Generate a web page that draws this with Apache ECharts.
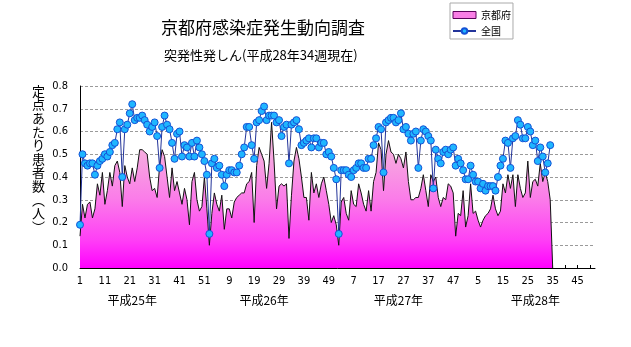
<!DOCTYPE html>
<html>
<head>
<meta charset="utf-8">
<script src="https://cdn.jsdelivr.net/npm/echarts@6/dist/echarts.min.js"></script>
<style>
  html, body { margin: 0; padding: 0; background: #fff; }
  #chart { width: 631px; height: 347px; }
</style>
</head>
<body>
<div id="chart"></div>
<script>
// Surveillance years (Heisei era) and weeks per year on the axis
const years = ['平成25年', '平成26年', '平成27年', '平成28年'];
const weeksPerYear = 52;

// Weekly cases per sentinel site — Kyoto prefecture
const kyoto = [
  // H25
  0.14, 0.28, 0.22, 0.28, 0.29, 0.22, 0.26, 0.37, 0.32, 0.42,
  0.28, 0.34, 0.42, 0.36, 0.45, 0.47, 0.42, 0.27, 0.45, 0.40,
  0.37, 0.44, 0.38, 0.44, 0.52, 0.52, 0.51, 0.50, 0.40, 0.34,
  0.35, 0.31, 0.45, 0.52, 0.49, 0.40, 0.31, 0.44, 0.34, 0.38,
  0.33, 0.28, 0.35, 0.30, 0.19, 0.38, 0.42, 0.30, 0.25, 0.27,
  0.40, 0.26,
  // H26
  0.10, 0.24, 0.33, 0.28, 0.25, 0.32, 0.17, 0.26, 0.26, 0.22,
  0.29, 0.31, 0.32, 0.33, 0.33, 0.37, 0.38, 0.42, 0.20, 0.45,
  0.53, 0.50, 0.47, 0.35, 0.46, 0.64, 0.47, 0.26, 0.36, 0.37,
  0.36, 0.37, 0.13, 0.32, 0.47, 0.53, 0.48, 0.40, 0.31, 0.31,
  0.21, 0.42, 0.33, 0.37, 0.31, 0.37, 0.40, 0.34, 0.28, 0.20,
  0.23, 0.19,
  // H27
  0.10, 0.29, 0.31, 0.24, 0.21, 0.34, 0.28, 0.27, 0.37, 0.33,
  0.28, 0.25, 0.34, 0.25, 0.38, 0.42, 0.55, 0.52, 0.34, 0.50,
  0.56, 0.51, 0.50, 0.46, 0.50, 0.48, 0.44, 0.51, 0.38, 0.30,
  0.30, 0.31, 0.31, 0.35, 0.41, 0.34, 0.27, 0.41, 0.38, 0.40,
  0.31, 0.27, 0.31, 0.30, 0.37, 0.36, 0.33, 0.14, 0.24, 0.23,
  0.34, 0.18,
  // H28 (to week 34), area closes to zero after the last week
  0.23, 0.37, 0.24, 0.25, 0.21, 0.18, 0.21, 0.23, 0.24, 0.26,
  0.32, 0.26, 0.23, 0.25, 0.37, 0.33, 0.41, 0.35, 0.41, 0.27,
  0.41, 0.35, 0.31, 0.33, 0.47, 0.31, 0.38, 0.39, 0.36, 0.46,
  0.38, 0.42, 0.38, 0.30,
  0
];

// Weekly cases per sentinel site — national
const national = [
  // H25
  0.19, 0.50, 0.46, 0.45, 0.46, 0.46, 0.41, 0.45, 0.47, 0.48,
  0.50, 0.49, 0.51, 0.54, 0.55, 0.61, 0.64, 0.40, 0.61, 0.63,
  0.68, 0.72, 0.65, 0.66, 0.66, 0.67, 0.65, 0.63, 0.60, 0.62,
  0.64, 0.58, 0.44, 0.62, 0.67, 0.63, 0.61, 0.55, 0.48, 0.59,
  0.60, 0.49, 0.54, 0.53, 0.49, 0.55, 0.49, 0.56, 0.53, 0.50,
  0.47, 0.41,
  // H26
  0.15, 0.46, 0.48, 0.44, 0.45, 0.41, 0.36, 0.41, 0.43, 0.43,
  0.42, 0.42, 0.45, 0.50, 0.53, 0.62, 0.62, 0.54, 0.48, 0.64,
  0.65, 0.69, 0.71, 0.65, 0.67, 0.67, 0.67, 0.64, 0.65, 0.58,
  0.62, 0.63, 0.46, 0.63, 0.64, 0.65, 0.61, 0.54, 0.55, 0.56,
  0.57, 0.53, 0.57, 0.57, 0.53, 0.55, 0.55, 0.50, 0.51, 0.49,
  0.44, 0.39,
  // H27
  0.15, 0.43, 0.43, 0.43, 0.41, 0.40, 0.43, 0.44, 0.46, 0.46,
  0.44, 0.44, 0.48, 0.48, 0.54, 0.57, 0.62, 0.61, 0.42, 0.64,
  0.65, 0.66, 0.66, 0.64, 0.65, 0.68, 0.61, 0.62, 0.59, 0.56,
  0.59, 0.60, 0.44, 0.56, 0.61, 0.60, 0.58, 0.56, 0.35, 0.52,
  0.48, 0.46, 0.51, 0.52, 0.50, 0.52, 0.53, 0.45, 0.48, 0.46,
  0.43, 0.39,
  // H28 (to week 34)
  0.39, 0.45, 0.41, 0.38, 0.38, 0.35, 0.37, 0.34, 0.36, 0.36,
  0.36, 0.34, 0.40, 0.45, 0.48, 0.56, 0.55, 0.44, 0.57, 0.58,
  0.65, 0.63, 0.57, 0.57, 0.62, 0.60, 0.54, 0.56, 0.47, 0.53,
  0.49, 0.42, 0.46, 0.54
];

// Category index under which each year caption sits
const yearCaptionAt = [21, 74, 128, 183];

// Y axis caption, written top to bottom
const yCaption = '定\n点\nあ\nた\nり\n患\n者\n数\n︵\n人\n︶';

// Category axis: one entry per week, "year-week"
const weeks = [];
years.forEach(function (y, yi) {
  for (let w = 1; w <= weeksPerYear; w++) weeks.push(yi + '-' + w);
});

const jp = "'Noto Sans CJK JP', 'Noto Sans', sans-serif";
const num = "'Liberation Sans Narrow', 'DejaVu Sans Condensed', 'Liberation Sans', sans-serif";

const chart = echarts.init(document.getElementById('chart'), null, { renderer: 'canvas' });

chart.setOption({
  animation: false,
  backgroundColor: '#fff',
  title: [
    {
      text: '京都府感染症発生動向調査',
      left: 156, top: 14,
      textStyle: { fontFamily: jp, fontSize: 17, fontWeight: 'normal', color: '#000' }
    },
    {
      text: '突発性発しん(平成28年34週現在)',
      left: 159, top: 44,
      textStyle: { fontFamily: jp, fontSize: 13, fontWeight: 'normal', color: '#000' }
    }
  ],
  graphic: [
    {
      type: 'text',
      left: 32, top: 84,
      style: {
        text: yCaption,
        font: "13px 'Noto Sans CJK JP', sans-serif",
        lineHeight: 13.6,
        fill: '#000'
      }
    }
  ],
  legend: {
    left: 450, top: 3,
    orient: 'vertical',
    itemWidth: 23, itemHeight: 7, itemGap: 6,
    padding: [7, 2, 3, 2],
    borderColor: '#aaa', borderWidth: 1,
    textStyle: { fontFamily: jp, fontSize: 10, color: '#000' },
    data: [
      { name: '京都府', icon: 'rect',
        itemStyle: { color: '#fa7ee6', borderColor: '#5a005a', borderWidth: 1 } },
      { name: '全国' }
    ]
  },
  grid: { left: 80, right: 36, top: 86, bottom: 79, containLabel: false },
  xAxis: [
    {
      type: 'category',
      data: weeks,
      boundaryGap: false,
      axisLine: { lineStyle: { color: '#000', width: 1 } },
      axisTick: { show: true, inside: true, length: 3, interval: 4,
                  lineStyle: { color: '#000' } },
      axisLabel: {
        interval: 9, margin: 8,
        fontFamily: num, fontSize: 11, color: '#000',
        formatter: function (v) { return v.split('-')[1]; }
      },
      splitLine: { show: false }
    },
    {
      type: 'category',
      data: weeks,
      boundaryGap: false,
      position: 'bottom',
      offset: 18,
      axisLine: { show: false },
      axisTick: { show: false },
      axisLabel: {
        margin: 8,
        fontFamily: jp, fontSize: 12, color: '#000',
        interval: function (i) { return yearCaptionAt.indexOf(i) >= 0; },
        formatter: function (v, i) {
          const k = yearCaptionAt.indexOf(i);
          return k >= 0 ? years[k] : '';
        }
      },
      splitLine: { show: false }
    }
  ],
  yAxis: {
    type: 'value',
    min: 0, max: 0.8, interval: 0.1,
    axisLine: { show: true, lineStyle: { color: '#000', width: 1 } },
    axisTick: { show: false },
    axisLabel: {
      margin: 12, fontFamily: num, fontSize: 11, color: '#000',
      formatter: function (v) { return v.toFixed(1); }
    },
    splitLine: { show: true, lineStyle: { color: '#9a9a9a', width: 1, type: [3, 2] } }
  },
  series: [
    {
      name: '京都府',
      type: 'line',
      data: kyoto,
      symbol: 'none',
      z: 2,
      lineStyle: { color: '#111', width: 1 },
      itemStyle: { color: '#fa7ee6' },
      areaStyle: {
        opacity: 1,
        color: new echarts.graphic.LinearGradient(0, 86, 0, 268, [
          { offset: 0, color: '#fbe4f3' },
          { offset: 0.35, color: '#f6addf' },
          { offset: 0.62, color: '#fb7ce9' },
          { offset: 0.85, color: '#ff3df6' },
          { offset: 1, color: '#ff00ff' }
        ], true)
      }
    },
    {
      name: '全国',
      type: 'line',
      data: national,
      symbol: 'circle',
      symbolSize: 7,
      showAllSymbol: true,
      z: 3,
      lineStyle: { color: '#23349a', width: 1 },
      itemStyle: { color: '#1fb6ff', borderColor: '#1452d6', borderWidth: 1 }
    }
  ]
});
</script>
</body>
</html>
